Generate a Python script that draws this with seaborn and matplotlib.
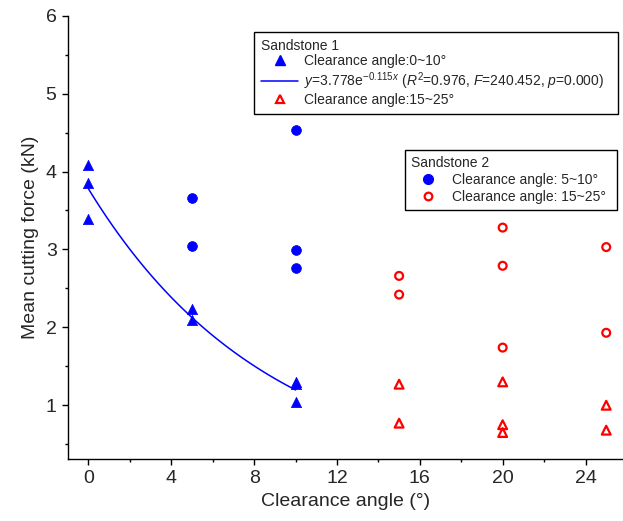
import numpy as np
import pandas as pd
import matplotlib
matplotlib.use("Agg")
import matplotlib.pyplot as plt
from matplotlib.lines import Line2D
import seaborn as sns

# -------------------------------------------------------------
# DATA
# -------------------------------------------------------------
# Sandstone 1, clearance angle 0~10 deg (filled blue triangles)
s1_low_x = [0, 0, 0, 5, 5, 10, 10, 10]
s1_low_y = [4.08, 3.85, 3.39, 2.24, 2.09, 1.30, 1.27, 1.04]

# Sandstone 1, clearance angle 15~25 deg (open red triangles)
s1_high_x = [15, 15, 20, 20, 20, 25, 25]
s1_high_y = [1.27, 0.77, 1.30, 0.75, 0.65, 1.00, 0.68]

# Sandstone 2, clearance angle 5~10 deg (filled blue circles)
s2_low_x = [5, 5, 10, 10, 10]
s2_low_y = [3.66, 3.05, 4.53, 2.99, 2.76]

# Sandstone 2, clearance angle 15~25 deg (open red circles)
s2_high_x = [15, 15, 20, 20, 20, 25, 25]
s2_high_y = [2.66, 2.42, 3.28, 2.79, 1.74, 3.03, 1.93]

# Exponential fit reported in the legend: y = a * exp(b * x)
fit_a = 3.778
fit_b = -0.115

x_ticks = [0, 4, 8, 12, 16, 20, 24]
y_ticks = [1, 2, 3, 4, 5, 6]

# -------------------------------------------------------------
# STYLE
# -------------------------------------------------------------
sns.set_style("ticks")
plt.rcParams.update({
    'font.family': ['Liberation Sans', 'DejaVu Sans'],
    'mathtext.fontset': 'custom',
    'mathtext.rm': 'Liberation Sans',
    'mathtext.it': 'Liberation Sans:italic',
    'mathtext.bf': 'Liberation Sans:bold',
})

BLUE = '#0000FF'
RED = '#FF0000'

fig = plt.figure(figsize=(6.23, 5.21), dpi=100)
ax = fig.add_axes([0.1087, 0.1190, 0.8913, 0.8509])

# fitted curve over the sandstone 1 range
fit_x = np.linspace(0, 10, 100)
fit_df = pd.DataFrame({'x': fit_x, 'y': fit_a * np.exp(fit_b * fit_x)})
sns.lineplot(data=fit_df, x='x', y='y', color=BLUE, linewidth=1.1, ax=ax, legend=False)

# markers
sns.scatterplot(x=s1_low_x, y=s1_low_y, marker='^', s=55, color=BLUE,
                edgecolor=BLUE, linewidth=0.5, ax=ax, legend=False, zorder=3)
sns.scatterplot(x=s2_low_x, y=s2_low_y, marker='o', s=50, color=BLUE,
                edgecolor=BLUE, linewidth=0.5, ax=ax, legend=False, zorder=3)
sns.scatterplot(x=s1_high_x, y=s1_high_y, marker='^', s=40, facecolor='none',
                edgecolor=RED, linewidth=1.6, ax=ax, legend=False, zorder=3)
sns.scatterplot(x=s2_high_x, y=s2_high_y, marker='o', s=32, facecolor='none',
                edgecolor=RED, linewidth=1.6, ax=ax, legend=False, zorder=3)

# axes
ax.set_xlim(-1, 25.81)
ax.set_ylim(0.31, 6.0)
ax.set_xticks(x_ticks)
ax.set_yticks(y_ticks)
ax.set_xticks(np.arange(0, 26, 2), minor=True)
ax.set_yticks(np.arange(0.5, 6.0, 0.5), minor=True)
ax.tick_params(axis='both', which='major', direction='out', length=4, width=1,
               labelsize=14, color='black', pad=4)
ax.tick_params(axis='both', which='minor', direction='out', length=2.5, width=1,
               color='black')
sns.despine(ax=ax)
for side in ['left', 'bottom']:
    ax.spines[side].set_color('black')
    ax.spines[side].set_linewidth(1)

ax.set_xlabel('Clearance angle (°)', fontsize=14, labelpad=4)
ax.set_ylabel('Mean cutting force (kN)', fontsize=14, labelpad=5)

# legends
h1 = [
    Line2D([], [], marker='^', linestyle='none', color=BLUE, markersize=7),
    Line2D([], [], color=BLUE, linewidth=1.1),
    Line2D([], [], marker='^', linestyle='none', markerfacecolor='none',
           markeredgecolor=RED, markeredgewidth=1.6, markersize=6),
]
l1 = [
    'Clearance angle:0~10°',
    r'$y$=3.778e$^{-0.115x}$ ($R^2$=0.976, $F$=240.452, $p$=0.000)',
    'Clearance angle:15~25°',
]
leg1 = ax.legend(h1, l1, title='Sandstone 1', loc='upper left', mode='expand',
                 bbox_to_anchor=(0.4077, 0.5, 0.5843, 0.4392),
                 bbox_transform=fig.transFigure,
                 borderaxespad=0, fontsize=10, title_fontsize=10,
                 frameon=True, fancybox=False, edgecolor='black', framealpha=1,
                 handlelength=2.7, handletextpad=0.4, labelspacing=0.12,
                 borderpad=0.5)
leg1._legend_box.align = 'left'
leg1.get_frame().set_linewidth(1)
ax.add_artist(leg1)

h2 = [
    Line2D([], [], marker='o', linestyle='none', color=BLUE, markersize=7),
    Line2D([], [], marker='o', linestyle='none', markerfacecolor='none',
           markeredgecolor=RED, markeredgewidth=1.6, markersize=5.5),
]
l2 = ['Clearance angle: 5~10°', 'Clearance angle: 15~25°']
leg2 = ax.legend(h2, l2, title='Sandstone 2', loc='upper left', mode='expand',
                 bbox_to_anchor=(0.6501, 0.4, 0.3403, 0.3121),
                 bbox_transform=fig.transFigure,
                 borderaxespad=0, fontsize=10, title_fontsize=10,
                 frameon=True, fancybox=False, edgecolor='black', framealpha=1,
                 handlelength=2.4, handletextpad=0.5, labelspacing=0.2,
                 borderpad=0.45)
leg2._legend_box.align = 'left'
leg2.get_frame().set_linewidth(1)

fig.savefig('out.png', dpi=100)
